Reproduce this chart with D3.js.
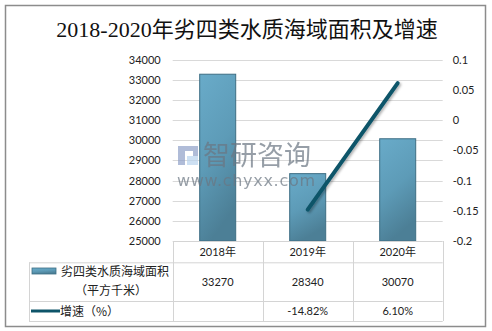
<!DOCTYPE html>
<html>
<head>
<meta charset="utf-8">
<script src="https://cdn.jsdelivr.net/npm/d3@7"></script>
<style>
  html, body { margin: 0; padding: 0; background: #fff; }
  svg { display: block; }
  text { font-family: "Lato", "Noto Sans CJK SC", sans-serif; fill: #222; }
</style>
</head>
<body>
<svg id="chart" width="492" height="331"></svg>
<script>
// Data
const years = ["2018年", "2019年", "2020年"];
const area = [33270, 28340, 30070];          // 劣四类水质海域面积（平方千米）
const growth = [null, -14.82, 6.10];         // 增速（%）
const growthLabels = ["", "-14.82%", "6.10%"];
const leftTicks = [25000, 26000, 27000, 28000, 29000, 30000, 31000, 32000, 33000, 34000];
const rightTicks = [-0.2, -0.15, -0.1, -0.05, 0, 0.05, 0.1];
const rightTickLabels = ["-0.2", "-0.15", "-0.1", "-0.05", "0", "0.05", "0.1"];
const titleText = "2018-2020年劣四类水质海域面积及增速";
const seriesNames = ["劣四类水质海域面积", "（平方千米）", "增速（%）"];

const svg = d3.select("#chart");

const plot = { left: 172.7, right: 442.7, top: 59.5, bottom: 241 };
const tableRows = [241, 262.3, 301, 321];
const legendLeft = 29;

const x = d3.scaleBand().domain(years).range([plot.left, plot.right]).paddingInner(0).paddingOuter(0);
const yL = d3.scaleLinear().domain([25000, 34000]).range([plot.bottom, plot.top]);
const yR = d3.scaleLinear().domain([-0.2, 0.1]).range([plot.bottom, plot.top]);

// Defs: bar gradient and line shadow
const defs = svg.append("defs");
const grad = defs.append("linearGradient").attr("id", "barGrad")
  .attr("x1", "0").attr("y1", "0").attr("x2", "0.3").attr("y2", "1");
grad.append("stop").attr("offset", "0%").attr("stop-color", "#69abc9");
grad.append("stop").attr("offset", "55%").attr("stop-color", "#5d9bb7");
grad.append("stop").attr("offset", "100%").attr("stop-color", "#4c7f96");
const sh = defs.append("filter").attr("id", "lineShadow").attr("x", "-20%").attr("y", "-20%").attr("width", "140%").attr("height", "140%");
sh.append("feDropShadow").attr("dx", 1.5).attr("dy", 1.5).attr("stdDeviation", 1.2).attr("flood-color", "#000").attr("flood-opacity", 0.3);

// Outer frame
svg.append("rect").attr("x", 5.5).attr("y", 5.5).attr("width", 480).attr("height", 321)
  .attr("fill", "#fff").attr("stroke", "#8c8c8c").attr("stroke-width", 1.5);

// Title
svg.append("text").attr("x", 247).attr("y", 37).attr("text-anchor", "middle")
  .style("font-family", "'Liberation Serif', 'Noto Sans CJK SC', serif")
  .style("font-size", "22px").style("fill", "#111")
  .text(titleText);

// Gridlines
svg.append("g").selectAll("line").data(leftTicks.slice(1)).join("line")
  .attr("x1", plot.left).attr("x2", plot.right)
  .attr("y1", d => Math.round(yL(d)) + 0.5).attr("y2", d => Math.round(yL(d)) + 0.5)
  .attr("stroke", "#d9d9d9").attr("stroke-width", 1);

// Left axis labels
const leftAxis = d3.axisLeft(yL).tickValues(leftTicks).tickSize(0).tickPadding(12).tickFormat(d3.format("d"));
const gL = svg.append("g").attr("transform", `translate(${plot.left},0)`).call(leftAxis);
gL.select(".domain").remove();
gL.selectAll("text").style("font-size", "11px").style("fill", "#222")
  .style("font-family", "'Lato', sans-serif");

// Right axis labels
const rightAxis = d3.axisRight(yR).tickValues(rightTicks).tickSize(0).tickPadding(10)
  .tickFormat((d, i) => rightTickLabels[i]);
const gR = svg.append("g").attr("transform", `translate(${plot.right},0)`).call(rightAxis);
gR.select(".domain").remove();
gR.selectAll("text").style("font-size", "11px").style("fill", "#222")
  .style("font-family", "'Lato', sans-serif");

// Bars
const barW = 36;
svg.append("g").selectAll("rect").data(area).join("rect")
  .attr("x", (d, i) => x(years[i]) + x.bandwidth() / 2 - barW / 2)
  .attr("y", d => yL(d))
  .attr("width", barW)
  .attr("height", d => plot.bottom - yL(d))
  .attr("fill", "url(#barGrad)")
  .attr("stroke", "#3e6e84").attr("stroke-width", 1);

// Watermark (semi-transparent, over the bars)
const wm = svg.append("g").attr("opacity", 0.7);
wm.append("rect").attr("x", 178).attr("y", 146).attr("width", 7).attr("height", 19).attr("fill", "#8fa0c8");
wm.append("rect").attr("x", 185).attr("y", 146).attr("width", 13).attr("height", 5).attr("fill", "#8fa0c8");
wm.append("rect").attr("x", 193).attr("y", 146).attr("width", 5).attr("height", 10).attr("fill", "#8fa0c8");
wm.append("rect").attr("x", 187).attr("y", 156).attr("width", 11).attr("height", 9).attr("fill", "#b9d3ee");
wm.append("text").attr("x", 203).attr("y", 165)
  .style("font-family", "'Noto Sans CJK SC', sans-serif").style("font-size", "27px").style("fill", "#6b7682")
  .text("智研咨询");
wm.append("text").attr("x", 177).attr("y", 186)
  .attr("textLength", 138).attr("lengthAdjust", "spacing")
  .style("font-family", "'DejaVu Sans', sans-serif").style("font-size", "16px").style("fill", "#6b7682")
  .text("www.chyxx.com");

// Growth line (percent -> fraction on right axis)
const lineData = growth.map((v, i) => ({ year: years[i], v })).filter(d => d.v !== null);
const line = d3.line().x(d => x(d.year) + x.bandwidth() / 2).y(d => yR(d.v / 100));
svg.append("path").datum(lineData).attr("d", line)
  .attr("fill", "none").attr("stroke", "#0e5469").attr("stroke-width", 4)
  .attr("stroke-linecap", "round").attr("filter", "url(#lineShadow)");

// Data table
const tg = svg.append("g").attr("stroke", "#d4d4d4").attr("stroke-width", 1);
tg.append("line").attr("x1", plot.left).attr("x2", plot.right).attr("y1", tableRows[0] + 0.5).attr("y2", tableRows[0] + 0.5);
[1, 2, 3].forEach(r => {
  tg.append("line").attr("x1", legendLeft).attr("x2", plot.right)
    .attr("y1", tableRows[r] + 0.5).attr("y2", tableRows[r] + 0.5);
});
const colEdges = years.map(y => x(y)).concat([plot.right]);
colEdges.forEach(cx => {
  tg.append("line").attr("x1", Math.round(cx) + 0.5).attr("x2", Math.round(cx) + 0.5)
    .attr("y1", tableRows[0]).attr("y2", tableRows[3]);
});
tg.append("line").attr("x1", legendLeft + 0.5).attr("x2", legendLeft + 0.5)
  .attr("y1", tableRows[1]).attr("y2", tableRows[3]);

const cellFont = "11px";
svg.append("g").selectAll("text").data(years).join("text")
  .attr("x", d => x(d) + x.bandwidth() / 2).attr("y", (tableRows[0] + tableRows[1]) / 2 + 4)
  .attr("text-anchor", "middle").style("font-size", cellFont)
  .text(d => d);
svg.append("g").selectAll("text").data(area).join("text")
  .attr("x", (d, i) => x(years[i]) + x.bandwidth() / 2).attr("y", (tableRows[1] + tableRows[2]) / 2 + 4)
  .attr("text-anchor", "middle").style("font-size", cellFont)
  .text(d => d);
svg.append("g").selectAll("text").data(growthLabels).join("text")
  .attr("x", (d, i) => x(years[i]) + x.bandwidth() / 2).attr("y", (tableRows[2] + tableRows[3]) / 2 + 4)
  .attr("text-anchor", "middle").style("font-size", cellFont)
  .text(d => d);

// Legend keys in the table
svg.append("rect").attr("x", 32).attr("y", 268).attr("width", 24).attr("height", 6)
  .attr("fill", "url(#barGrad)").attr("stroke", "#3e6e84").attr("stroke-width", 0.8);
svg.append("text").attr("x", 61).attr("y", 275.5).style("font-size", "12px")
  .style("font-family", "'Noto Sans CJK SC', sans-serif").text(seriesNames[0]);
svg.append("text").attr("x", 111).attr("y", 294.5).attr("text-anchor", "middle").style("font-size", "12px")
  .style("font-family", "'Noto Sans CJK SC', sans-serif").text(seriesNames[1]);
svg.append("line").attr("x1", 31).attr("x2", 60).attr("y1", 311).attr("y2", 311)
  .attr("stroke", "#0e5469").attr("stroke-width", 3);
svg.append("text").attr("x", 60).attr("y", 315.5).style("font-size", "12px")
  .style("font-family", "'Noto Sans CJK SC', sans-serif").text(seriesNames[2]);
</script>
</body>
</html>
